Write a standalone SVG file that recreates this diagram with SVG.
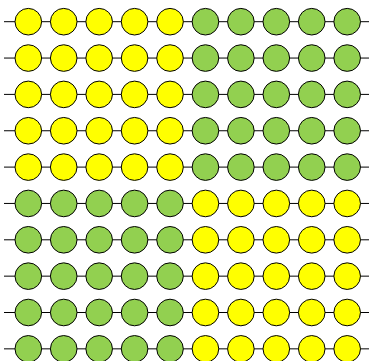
<svg xmlns="http://www.w3.org/2000/svg" width="369" height="361" viewBox="0 0 369 361">
<style>
.ln{stroke:#000;stroke-width:1;}
.y{fill:#FFFF00;stroke:#000;stroke-width:1;}
.g{fill:#92D050;stroke:#000;stroke-width:1;}
</style>
<rect width="369" height="361" fill="#fff"/>
<g id="connectors">
<line class="ln" x1="4" y1="21.7" x2="369" y2="21.7"/>
<line class="ln" x1="4" y1="58.05" x2="369" y2="58.05"/>
<line class="ln" x1="4" y1="94.4" x2="369" y2="94.4"/>
<line class="ln" x1="4" y1="130.75" x2="369" y2="130.75"/>
<line class="ln" x1="4" y1="167.1" x2="369" y2="167.1"/>
<line class="ln" x1="4" y1="203.45" x2="369" y2="203.45"/>
<line class="ln" x1="4" y1="239.8" x2="369" y2="239.8"/>
<line class="ln" x1="4" y1="276.15" x2="369" y2="276.15"/>
<line class="ln" x1="4" y1="312.5" x2="369" y2="312.5"/>
<line class="ln" x1="4" y1="348.85" x2="369" y2="348.85"/>
</g>
<g id="nodes">
<g id="r1"><circle class="y" cx="28.3" cy="21.7" r="13.3"/><circle class="y" cx="63.73" cy="21.7" r="13.3"/><circle class="y" cx="99.16" cy="21.7" r="13.3"/><circle class="y" cx="134.59" cy="21.7" r="13.3"/><circle class="y" cx="170.02" cy="21.7" r="13.3"/><circle class="g" cx="205.45" cy="21.7" r="13.3"/><circle class="g" cx="240.88" cy="21.7" r="13.3"/><circle class="g" cx="276.31" cy="21.7" r="13.3"/><circle class="g" cx="311.74" cy="21.7" r="13.3"/><circle class="g" cx="347.17" cy="21.7" r="13.3"/></g>
<g id="r2"><circle class="y" cx="28.3" cy="58.05" r="13.3"/><circle class="y" cx="63.73" cy="58.05" r="13.3"/><circle class="y" cx="99.16" cy="58.05" r="13.3"/><circle class="y" cx="134.59" cy="58.05" r="13.3"/><circle class="y" cx="170.02" cy="58.05" r="13.3"/><circle class="g" cx="205.45" cy="58.05" r="13.3"/><circle class="g" cx="240.88" cy="58.05" r="13.3"/><circle class="g" cx="276.31" cy="58.05" r="13.3"/><circle class="g" cx="311.74" cy="58.05" r="13.3"/><circle class="g" cx="347.17" cy="58.05" r="13.3"/></g>
<g id="r3"><circle class="y" cx="28.3" cy="94.4" r="13.3"/><circle class="y" cx="63.73" cy="94.4" r="13.3"/><circle class="y" cx="99.16" cy="94.4" r="13.3"/><circle class="y" cx="134.59" cy="94.4" r="13.3"/><circle class="y" cx="170.02" cy="94.4" r="13.3"/><circle class="g" cx="205.45" cy="94.4" r="13.3"/><circle class="g" cx="240.88" cy="94.4" r="13.3"/><circle class="g" cx="276.31" cy="94.4" r="13.3"/><circle class="g" cx="311.74" cy="94.4" r="13.3"/><circle class="g" cx="347.17" cy="94.4" r="13.3"/></g>
<g id="r4"><circle class="y" cx="28.3" cy="130.75" r="13.3"/><circle class="y" cx="63.73" cy="130.75" r="13.3"/><circle class="y" cx="99.16" cy="130.75" r="13.3"/><circle class="y" cx="134.59" cy="130.75" r="13.3"/><circle class="y" cx="170.02" cy="130.75" r="13.3"/><circle class="g" cx="205.45" cy="130.75" r="13.3"/><circle class="g" cx="240.88" cy="130.75" r="13.3"/><circle class="g" cx="276.31" cy="130.75" r="13.3"/><circle class="g" cx="311.74" cy="130.75" r="13.3"/><circle class="g" cx="347.17" cy="130.75" r="13.3"/></g>
<g id="r5"><circle class="y" cx="28.3" cy="167.1" r="13.3"/><circle class="y" cx="63.73" cy="167.1" r="13.3"/><circle class="y" cx="99.16" cy="167.1" r="13.3"/><circle class="y" cx="134.59" cy="167.1" r="13.3"/><circle class="y" cx="170.02" cy="167.1" r="13.3"/><circle class="g" cx="205.45" cy="167.1" r="13.3"/><circle class="g" cx="240.88" cy="167.1" r="13.3"/><circle class="g" cx="276.31" cy="167.1" r="13.3"/><circle class="g" cx="311.74" cy="167.1" r="13.3"/><circle class="g" cx="347.17" cy="167.1" r="13.3"/></g>
<g id="r6"><circle class="g" cx="28.3" cy="203.45" r="13.3"/><circle class="g" cx="63.73" cy="203.45" r="13.3"/><circle class="g" cx="99.16" cy="203.45" r="13.3"/><circle class="g" cx="134.59" cy="203.45" r="13.3"/><circle class="g" cx="170.02" cy="203.45" r="13.3"/><circle class="y" cx="205.45" cy="203.45" r="13.3"/><circle class="y" cx="240.88" cy="203.45" r="13.3"/><circle class="y" cx="276.31" cy="203.45" r="13.3"/><circle class="y" cx="311.74" cy="203.45" r="13.3"/><circle class="y" cx="347.17" cy="203.45" r="13.3"/></g>
<g id="r7"><circle class="g" cx="28.3" cy="239.8" r="13.3"/><circle class="g" cx="63.73" cy="239.8" r="13.3"/><circle class="g" cx="99.16" cy="239.8" r="13.3"/><circle class="g" cx="134.59" cy="239.8" r="13.3"/><circle class="g" cx="170.02" cy="239.8" r="13.3"/><circle class="y" cx="205.45" cy="239.8" r="13.3"/><circle class="y" cx="240.88" cy="239.8" r="13.3"/><circle class="y" cx="276.31" cy="239.8" r="13.3"/><circle class="y" cx="311.74" cy="239.8" r="13.3"/><circle class="y" cx="347.17" cy="239.8" r="13.3"/></g>
<g id="r8"><circle class="g" cx="28.3" cy="276.15" r="13.3"/><circle class="g" cx="63.73" cy="276.15" r="13.3"/><circle class="g" cx="99.16" cy="276.15" r="13.3"/><circle class="g" cx="134.59" cy="276.15" r="13.3"/><circle class="g" cx="170.02" cy="276.15" r="13.3"/><circle class="y" cx="205.45" cy="276.15" r="13.3"/><circle class="y" cx="240.88" cy="276.15" r="13.3"/><circle class="y" cx="276.31" cy="276.15" r="13.3"/><circle class="y" cx="311.74" cy="276.15" r="13.3"/><circle class="y" cx="347.17" cy="276.15" r="13.3"/></g>
<g id="r9"><circle class="g" cx="28.3" cy="312.5" r="13.3"/><circle class="g" cx="63.73" cy="312.5" r="13.3"/><circle class="g" cx="99.16" cy="312.5" r="13.3"/><circle class="g" cx="134.59" cy="312.5" r="13.3"/><circle class="g" cx="170.02" cy="312.5" r="13.3"/><circle class="y" cx="205.45" cy="312.5" r="13.3"/><circle class="y" cx="240.88" cy="312.5" r="13.3"/><circle class="y" cx="276.31" cy="312.5" r="13.3"/><circle class="y" cx="311.74" cy="312.5" r="13.3"/><circle class="y" cx="347.17" cy="312.5" r="13.3"/></g>
<g id="r10"><circle class="g" cx="28.3" cy="348.85" r="13.3"/><circle class="g" cx="63.73" cy="348.85" r="13.3"/><circle class="g" cx="99.16" cy="348.85" r="13.3"/><circle class="g" cx="134.59" cy="348.85" r="13.3"/><circle class="g" cx="170.02" cy="348.85" r="13.3"/><circle class="y" cx="205.45" cy="348.85" r="13.3"/><circle class="y" cx="240.88" cy="348.85" r="13.3"/><circle class="y" cx="276.31" cy="348.85" r="13.3"/><circle class="y" cx="311.74" cy="348.85" r="13.3"/><circle class="y" cx="347.17" cy="348.85" r="13.3"/></g>
</g>
</svg>
